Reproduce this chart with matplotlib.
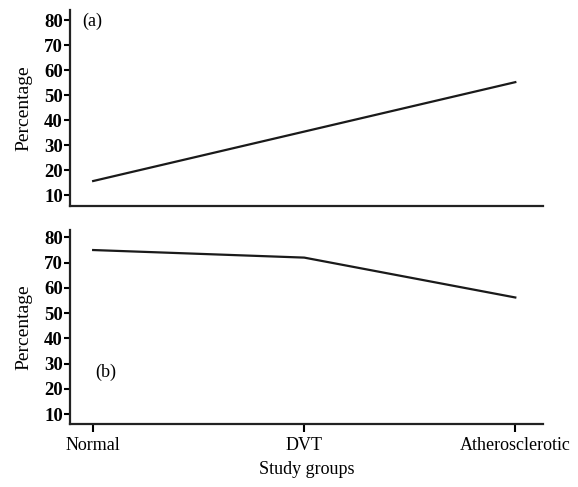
import matplotlib
matplotlib.use('Agg')
import matplotlib.pyplot as plt

plt.rcParams['font.family'] = ['Liberation Serif', 'DejaVu Serif']

groups = ['Normal', 'DVT', 'Atherosclerotic']
panel_a = [15.6, 35.4, 55.2]
panel_b = [75, 72, 56.2]
yticks = [10, 20, 30, 40, 50, 60, 70, 80]

fig = plt.figure(figsize=(5.78, 4.87), dpi=100)
ax_a = fig.add_axes([0.121, 0.577, 0.818, 0.402])
ax_b = fig.add_axes([0.121, 0.129, 0.818, 0.398])

x = range(len(groups))
for ax, vals, lims in [(ax_a, panel_a, (5.6, 84)), (ax_b, panel_b, (6, 82.8))]:
    ax.plot(x, vals, color='#1a1a1a', lw=1.6)
    ax.set_xlim(-0.11, 2.13)
    ax.set_ylim(*lims)
    ax.set_yticks(yticks)
    ax.spines['top'].set_visible(False)
    ax.spines['right'].set_visible(False)
    for s in ['left', 'bottom']:
        ax.spines[s].set_linewidth(1.6)
        ax.spines[s].set_color('#222222')
    ax.tick_params(axis='y', direction='out', length=4, width=1.5, labelsize=13.5, pad=1)
    for lab in ax.get_yticklabels():
        lab.set_fontweight('bold')
    ax.set_ylabel('Percentage', fontsize=14, labelpad=8.5)

ax_a.set_xticks([])
ax_b.set_xticks(list(x))
ax_b.set_xticklabels(groups, fontsize=13)
ax_b.tick_params(axis='x', direction='out', length=6, width=1.5, pad=3)
ax_b.set_xlabel('Study groups', fontsize=13, labelpad=5)

ax_a.text(0.027, 0.985, '(a)', transform=ax_a.transAxes, fontsize=13, va='top', ha='left')
ax_b.text(0.053, 0.27, '(b)', transform=ax_b.transAxes, fontsize=13, va='center', ha='left')

fig.savefig('out.png', dpi=100)
